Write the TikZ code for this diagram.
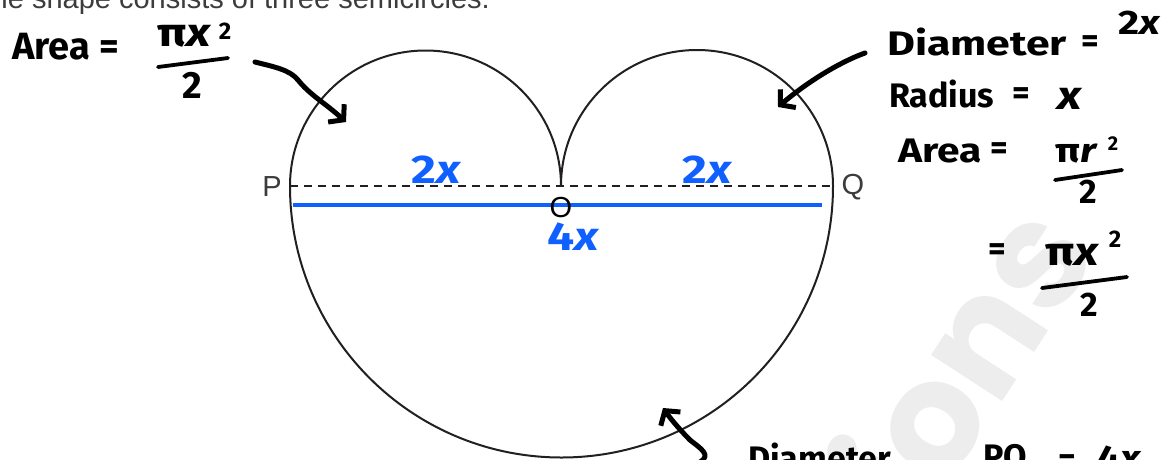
\documentclass[tikz,border=0pt]{standalone}
\usepackage{fontspec}
\setmainfont{Liberation Sans}
\newfontfamily\hand{Fira Sans}
\newfontfamily\handw{Fira Sans}[FakeStretch=1.2]
\newfontfamily\wmfont{Poppins}
\usetikzlibrary{arrows.meta}
\definecolor{inkblue}{RGB}{16,96,255}
\definecolor{lineblack}{RGB}{35,31,32}
\definecolor{qgray}{RGB}{60,60,60}
\definecolor{wmgray}{RGB}{237,237,237}
\begin{document}
\begin{tikzpicture}[x=1pt,y=-1pt,
  hw/.style={font=\hand\bfseries\fontsize{34}{34}\selectfont, inner sep=0pt},
  hww/.style={font=\handw\bfseries\fontsize{34}{34}\selectfont, inner sep=0pt},
  hwbig/.style={font=\hand\bfseries\fontsize{38}{38}\selectfont, inner sep=0pt},
  hwbigw/.style={font=\handw\bfseries\fontsize{40}{40}\selectfont, inner sep=0pt},
  bluehw/.style={font=\handw\bfseries\fontsize{40}{40}\selectfont, text=inkblue, inner sep=0pt},
  supnum/.style={font=\hand\bfseries\fontsize{24}{24}\selectfont, inner sep=0pt},
  supsmall/.style={font=\hand\bfseries\fontsize{20}{20}\selectfont, inner sep=0pt},
  fracbar/.style={line width=3.8pt, line cap=round},
  harrow/.style={line width=5pt, line cap=round, line join=round, -{Straight Barb[length=10pt,width=24pt]}},
  curveline/.style={line width=2pt, draw=lineblack},
  dashline/.style={line width=2pt, draw=lineblack, dash pattern=on 8pt off 6pt},
  plabel/.style={font=\fontsize{29}{29}\selectfont, text=qgray, inner sep=0pt},
]
\useasboundingbox (0,0) rectangle (1171,459);
% watermark
\node[font=\wmfont\bfseries\fontsize{152}{152}\selectfont, text=wmgray, rotate=57, anchor=base west, inner sep=0pt] (wm) at (920,528) {ions};
% intro text
\node[font=\fontsize{29}{29}\selectfont, text=qgray, anchor=base east, inner sep=0pt] (intro) at (490,8) {The shape consists of three semicircles.};
% geometry
\coordinate (pL) at (290,186);
\coordinate (O0) at (561,186);
\coordinate (pR) at (833,186);
\draw[curveline] (pL) arc[start angle=180, end angle=360, radius=271.5pt];
\draw[curveline] (pL) arc[start angle=180, end angle=0, radius=135.5pt];
\draw[curveline] (O0) arc[start angle=180, end angle=0, radius=136pt];
\draw[dashline] (pL) -- (pR);
\coordinate (bL) at (293,205);
\coordinate (bR) at (822,205);
\draw[line width=4.5pt, inkblue] (bL) -- (bR);
% labels
\node[plabel] (P) at (272,187) {P};
\node[plabel] (Q) at (853,187) {Q};
\node[plabel, text=black] (O) at (561,208) {O};
\node[bluehw] (lblA) at (436,170) {2{\itshape x}};
\node[bluehw] (lblB) at (707,170) {2{\itshape x}};
\node[bluehw] (lblC) at (573,237) {4{\itshape x}};
% top-left annotation
\node[hwbig, anchor=base west] (tlArea) at (12,59) {Area =};
\node[hwbigw, anchor=base west] (tlNum) at (157,46) {π{\itshape x}};
\node[supnum] (tlSup) at (225,31) {2};
\coordinate (tlBarA) at (158,67);
\coordinate (tlBarB) at (228,58);
\draw[fracbar] (tlBarA) -- (tlBarB);
\node[hwbig] (tlDen) at (192,85) {2};
\coordinate (a1s) at (255,62);
\coordinate (a1m) at (298,80);
\coordinate (a1e) at (346,122);
\draw[harrow] (a1s) .. controls (275,67) and (290,70) .. (a1m) .. controls (310,95) and (325,103) .. (a1e);
% right annotation
\node[hww, anchor=base west] (diam) at (887,55) {\scalebox{1.05}[1]{Diameter}};
\node[hw] (diamEq) at (1090,44) {=};
\node[hww] (diamVal) at (1139,23) {2{\itshape x}};
\node[hw, anchor=base west] (rad) at (889,107) {Radius};
\node[hw] (radEq) at (1021,96) {=};
\node[hwbigw] (radVal) at (1070,99) {{\itshape x}};
\node[hww, anchor=base west] (arB) at (898,162) {Area};
\node[hw] (arBEq) at (999,151) {=};
\node[hww, anchor=base west] (arBNum) at (1055,162) {π{\itshape r}};
\node[supsmall] (arBSup) at (1113,144) {2};
\coordinate (arBBarA) at (1055,180);
\coordinate (arBBarB) at (1122,170);
\draw[fracbar] (arBBarA) -- (arBBarB);
\node[hw] (arBDen) at (1088,192) {2};
\node[hw] (eqC) at (997,252) {=};
\node[hwbigw, anchor=base west] (numC) at (1045,265) {π{\itshape x}};
\node[supnum] (supC) at (1115,239) {2};
\coordinate (barCA) at (1042,288);
\coordinate (barCB) at (1127,277);
\draw[fracbar] (barCA) -- (barCB);
\node[hw] (denC) at (1089,305) {2};
\coordinate (a2s) at (865,53);
\coordinate (a2e) at (778,107);
\draw[harrow] (a2s) .. controls (845,60) and (812,78) .. (a2e);
% bottom annotation
\node[hw, anchor=base west] (botD) at (748,470) {Diameter};
\node[hw] (botEq1) at (935,476) {=};
\node[hw, anchor=base west] (botPQ) at (983,468) {PQ};
\node[hw] (botEq2) at (1067,463) {=};
\node[hww, anchor=base west] (botVal) at (1097,469) {4{\itshape x}};
\coordinate (a3s) at (700,462);
\coordinate (a3m) at (690,440);
\coordinate (a3e) at (663,408);
\draw[harrow] (a3s) .. controls (712,455) and (700,448) .. (a3m) .. controls (680,430) and (670,418) .. (a3e);
\end{tikzpicture}
\end{document}
